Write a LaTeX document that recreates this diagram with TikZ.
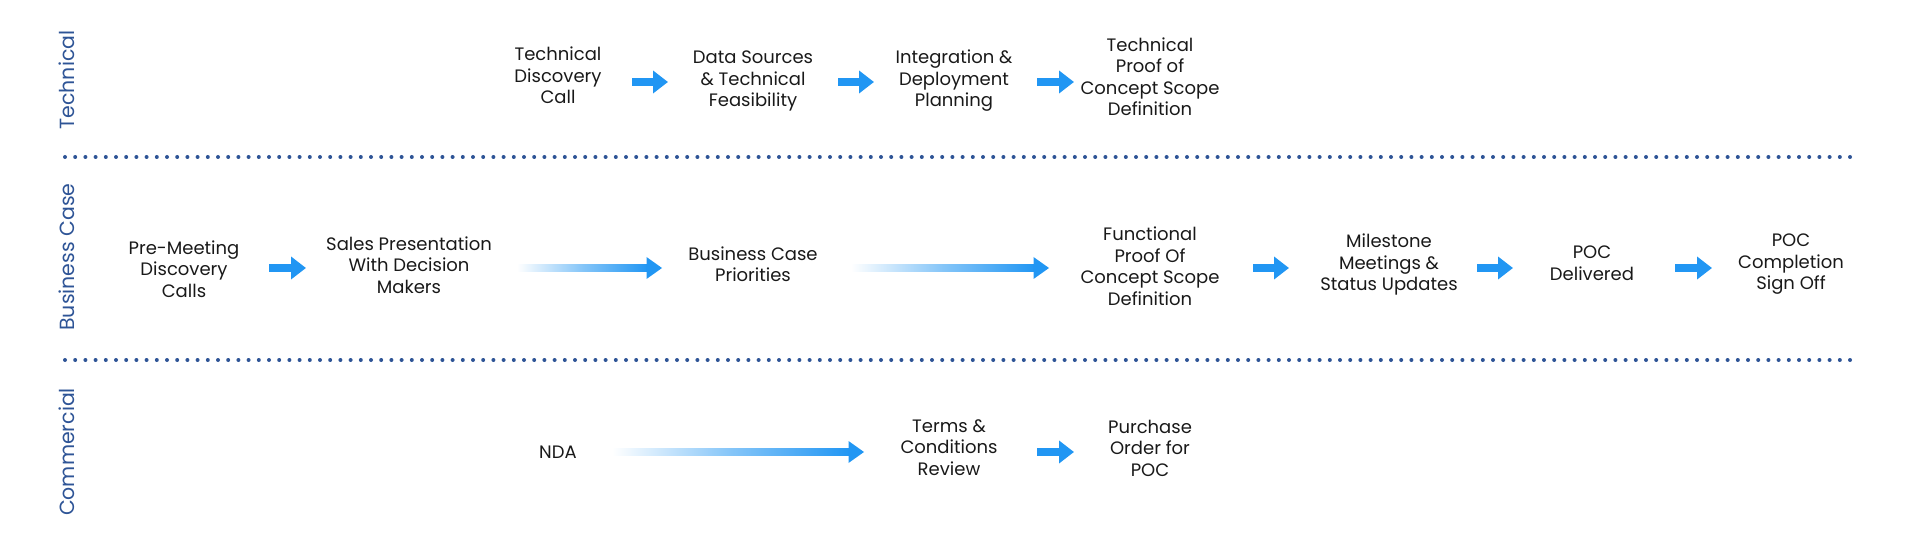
\documentclass[tikz,border=0pt]{standalone}
\usepackage{fontspec}
\setmainfont{Poppins}
\usetikzlibrary{arrows.meta,calc}
\definecolor{arrowblue}{RGB}{33,150,243}
\definecolor{lanecol}{RGB}{46,84,150}
\definecolor{txt}{RGB}{25,25,25}
\tikzset{
  stepnode/.style={align=center, text=txt, font=\fontsize{18}{21.5}\selectfont, inner sep=0pt},
  lanelabel/.style={rotate=90, text=lanecol, font=\fontsize{20.5}{24}\selectfont, inner sep=0pt},
  fatarrow/.style={draw=arrowblue, line width=8pt, -{Triangle[length=15pt,width=22pt]}},
  dotline/.style={draw=lanecol, line width=4pt, line cap=round, dash pattern=on 0pt off 10.2pt},
}
\newcommand{\gradarrow}[2]{%
  \path (#1) coordinate (gs) (#2) coordinate (ge);
  \shade[left color=white, right color=arrowblue, middle color=arrowblue!55]
    ($(gs)+(0,3.5)$) rectangle ($(ge)+(-14,-3.5)$);
  \fill[arrowblue] ($(ge)+(-15.5,11)$) -- (ge) -- ($(ge)+(-15.5,-11)$) -- cycle;
}
\begin{document}
\begin{tikzpicture}[x=1pt,y=-1pt]
\useasboundingbox (0,0) rectangle (1920,537);
% lanes
\node[lanelabel] (lt) at (67,80) {Technical};
\node[lanelabel] (lb) at (67,257) {Business Case};
\node[lanelabel] (lc) at (67,452) {Commercial};
\coordinate (d1s) at (65,157); \coordinate (d1e) at (1859,157);
\coordinate (d2s) at (65,360); \coordinate (d2e) at (1859,360);
\draw[dotline] (d1s) -- (d1e);
\draw[dotline] (d2s) -- (d2e);
% technical row
\node[stepnode] (t1) at (558,75.5) {Technical\\Discovery\\Call};
\node[stepnode] (t2) at (753,81) {Data Sources\\\& Technical\\Feasibility};
\node[stepnode] (t3) at (954,81) {Integration \&\\Deployment\\Planning};
\node[stepnode] (t4) at (1150,76.5) {Technical\\Proof of\\Concept Scope\\Definition};
\coordinate (ta1s) at (632,82); \coordinate (ta1e) at (668,82);
\coordinate (ta2s) at (838,82); \coordinate (ta2e) at (874,82);
\coordinate (ta3s) at (1037,82); \coordinate (ta3e) at (1074,82);
\draw[fatarrow] (ta1s) -- (ta1e);
\draw[fatarrow] (ta2s) -- (ta2e);
\draw[fatarrow] (ta3s) -- (ta3e);
% business row
\node[stepnode] (b1) at (184,269) {Pre-Meeting\\Discovery\\Calls};
\node[stepnode] (b2) at (409,265) {Sales Presentation\\With Decision\\Makers};
\node[stepnode] (b3) at (753,264) {Business Case\\Priorities};
\node[stepnode] (b4) at (1150,266) {Functional\\Proof Of\\Concept Scope\\Definition};
\node[stepnode] (b5) at (1389,264.5) {Milestone\\Meetings \&\\Status Updates};
\node[stepnode] (b6) at (1592,263) {POC\\Delivered};
\node[stepnode] (b7) at (1791,264.5) {POC\\Completion\\Sign Off};
\coordinate (ba1s) at (269,268); \coordinate (ba1e) at (306,268);
\coordinate (ba2s) at (517,268); \coordinate (ba2e) at (662,268);
\coordinate (ba3s) at (851,268); \coordinate (ba3e) at (1049,268);
\coordinate (ba4s) at (1253,268); \coordinate (ba4e) at (1289,268);
\coordinate (ba5s) at (1477,268); \coordinate (ba5e) at (1513,268);
\coordinate (ba6s) at (1675,268); \coordinate (ba6e) at (1712,268);
\draw[fatarrow] (ba1s) -- (ba1e);
\gradarrow{ba2s}{ba2e}
\gradarrow{ba3s}{ba3e}
\draw[fatarrow] (ba4s) -- (ba4e);
\draw[fatarrow] (ba5s) -- (ba5e);
\draw[fatarrow] (ba6s) -- (ba6e);
% commercial row
\node[stepnode] (c1) at (558,452) {NDA};
\node[stepnode] (c2) at (949,447.5) {Terms \&\\Conditions\\Review};
\node[stepnode] (c3) at (1150,448) {Purchase\\Order for\\POC};
\coordinate (ca1s) at (612,452); \coordinate (ca1e) at (864,452);
\coordinate (ca2s) at (1037,452); \coordinate (ca2e) at (1074,452);
\gradarrow{ca1s}{ca1e}
\draw[fatarrow] (ca2s) -- (ca2e);
\end{tikzpicture}
\end{document}
